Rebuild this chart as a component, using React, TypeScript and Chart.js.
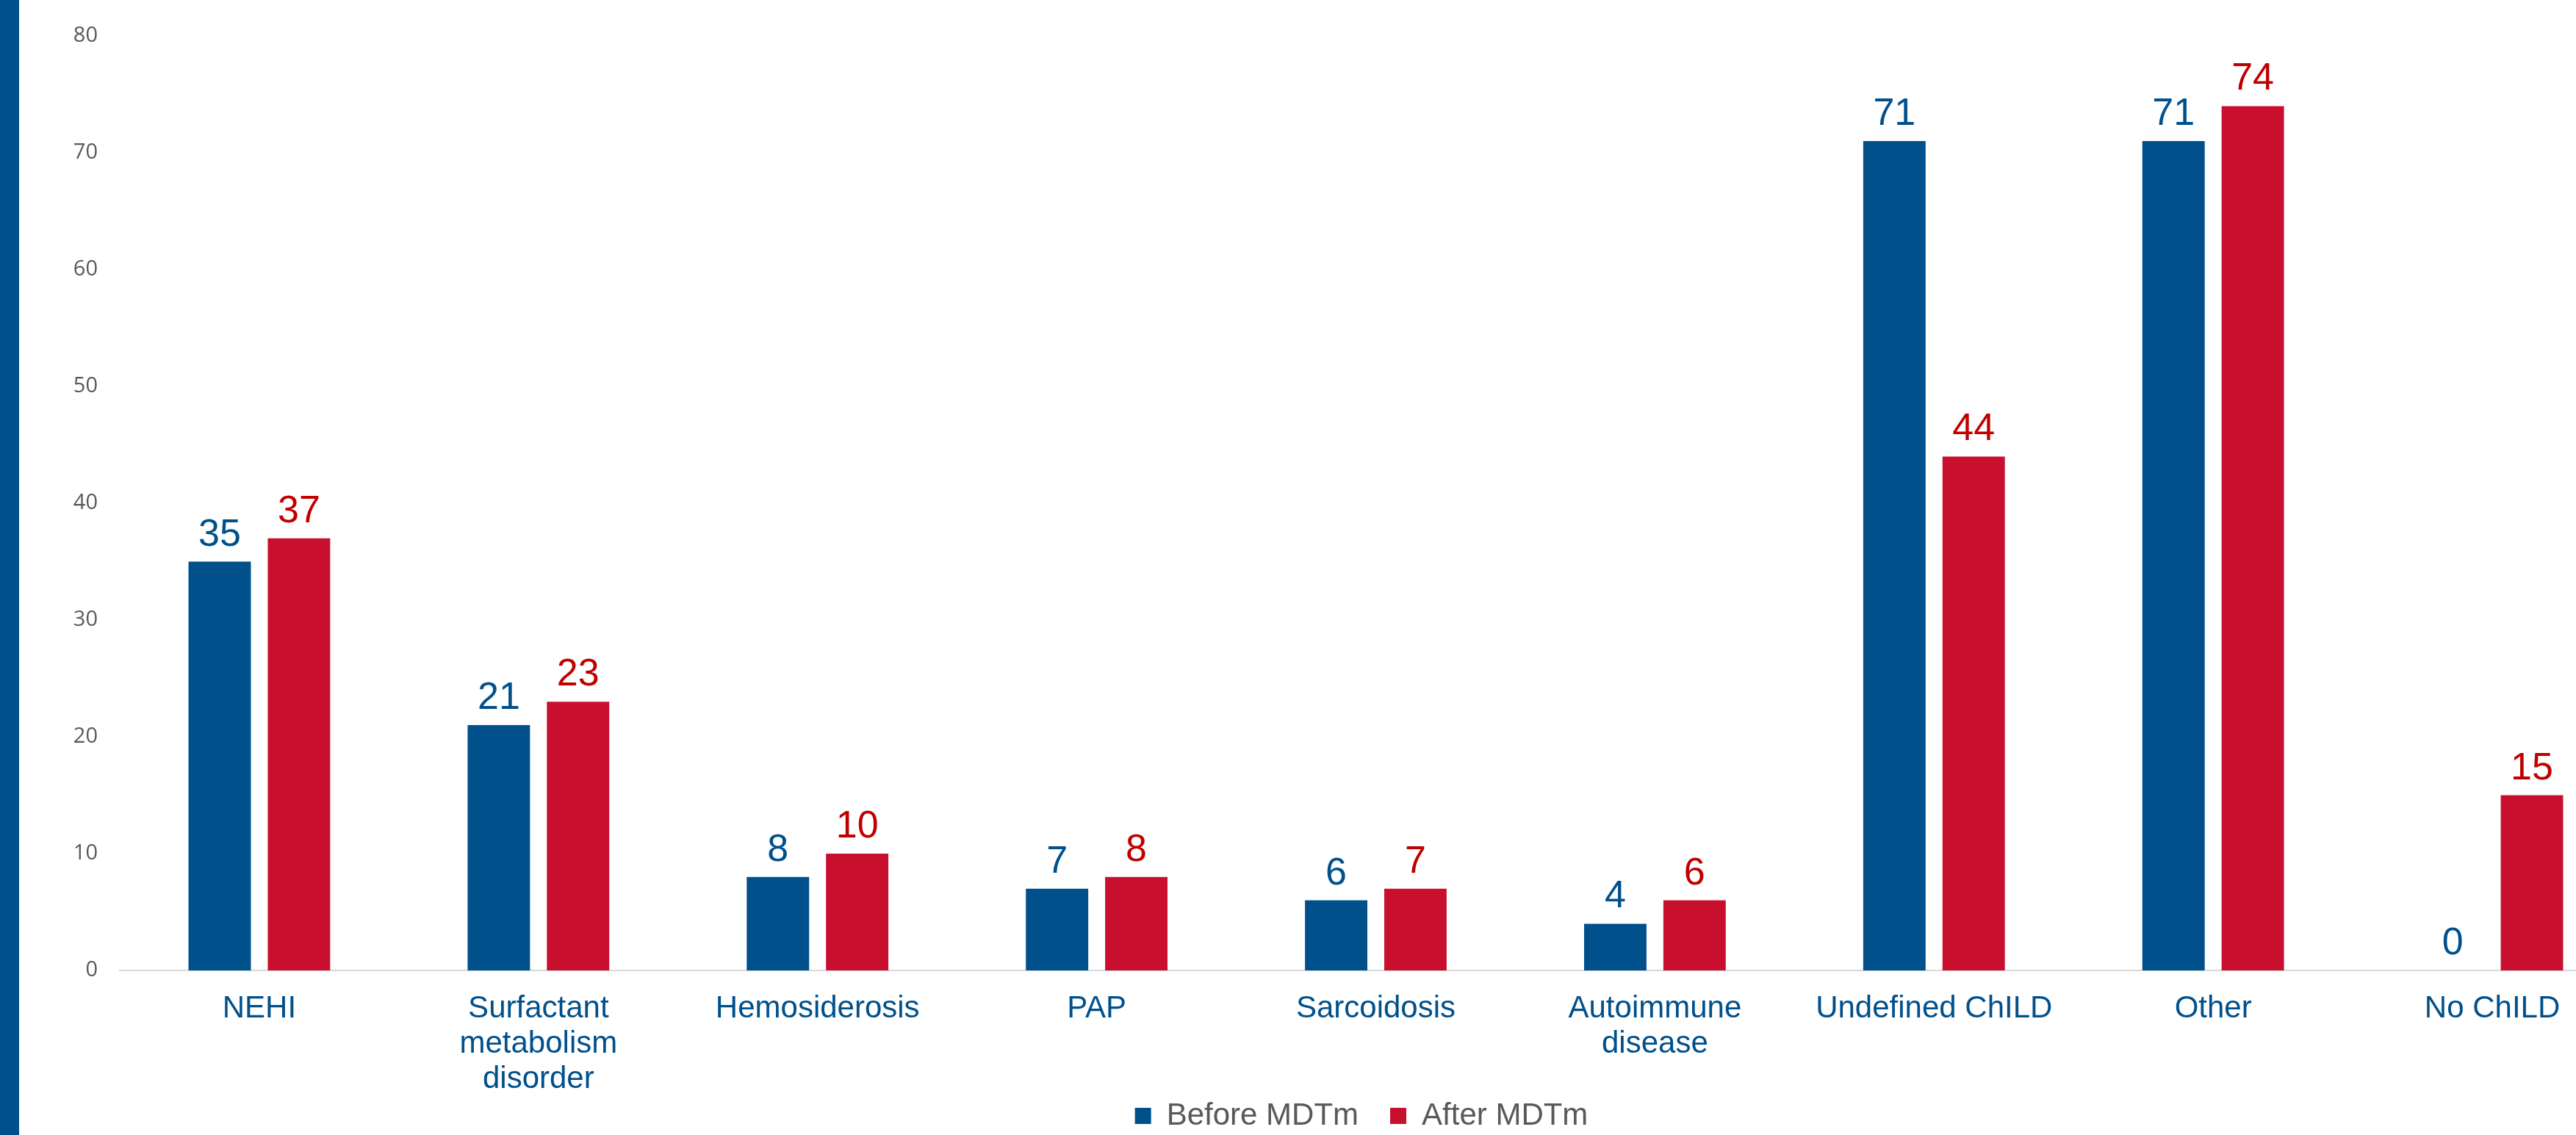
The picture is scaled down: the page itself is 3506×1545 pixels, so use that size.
import React, { useEffect, useRef } from "react";
import { Chart, registerables } from "chart.js";

Chart.register(...registerables);

const categories: (string | string[])[] = [
  "NEHI",
  ["Surfactant", "metabolism", "disorder"],
  "Hemosiderosis",
  "PAP",
  "Sarcoidosis",
  ["Autoimmune", "disease"],
  "Undefined ChILD",
  "Other",
  "No ChILD",
];
const beforeValues = [35, 21, 8, 7, 6, 4, 71, 71, 0];
const afterValues = [37, 23, 10, 8, 7, 6, 44, 74, 15];
const seriesNames = ["Before MDTm", "After MDTm"];
const yMin = 0;
const yMax = 80;
const yStep = 10;

const BLUE = "#00508C";
const RED = "#C8102E";
const RED_LABEL = "#C00000";
const GRAY = "#595959";
const AXIS_GRAY = "#D9D9D9";
const FONT = "'Liberation Sans', Arial, Helvetica, sans-serif";

const VIEW_W = 3506;
const VIEW_H = 1545;
const CANVAS_W = 3582;
const CANVAS_H = 1586;
const X_AXIS_H = 170;
const PAD_LEFT = 96;
const Y_AXIS_W = 67;
const LEGEND_SHIFT_X = 14;
const LEGEND_SHIFT_Y = -36;

const labelColors = [BLUE, RED_LABEL];

const valueLabels = {
  id: "valueLabels",
  afterDatasetsDraw(chart: any) {
    const ctx = chart.ctx;
    ctx.save();
    ctx.font = `52px ${FONT}`;
    ctx.textAlign = "center";
    ctx.textBaseline = "alphabetic";
    chart.data.datasets.forEach((ds: any, i: number) => {
      const meta = chart.getDatasetMeta(i);
      ctx.fillStyle = labelColors[i];
      meta.data.forEach((el: any, j: number) => {
        ctx.fillText(String(ds.data[j]), el.x, el.y - 22);
      });
    });
    ctx.restore();
  },
};

const legendNudge = {
  id: "legendNudge",
  afterLayout(chart: any) {
    const lg = chart.legend;
    if (!lg) return;
    lg.left += LEGEND_SHIFT_X;
    lg.right += LEGEND_SHIFT_X;
    lg.top += LEGEND_SHIFT_Y;
    lg.bottom += LEGEND_SHIFT_Y;
  },
};

export default function App() {
  const canvasRef = useRef<HTMLCanvasElement | null>(null);

  useEffect(() => {
    if (!canvasRef.current) return;
    const chart = new Chart(canvasRef.current, {
      type: "bar",
      data: {
        labels: categories as any,
        datasets: [
          {
            label: seriesNames[0],
            data: beforeValues,
            backgroundColor: BLUE,
            categoryPercentage: 0.568,
            barPercentage: 0.787,
          },
          {
            label: seriesNames[1],
            data: afterValues,
            backgroundColor: RED,
            categoryPercentage: 0.568,
            barPercentage: 0.787,
          },
        ],
      },
      options: {
        animation: false,
        responsive: false,
        devicePixelRatio: 1,
        layout: { padding: { left: PAD_LEFT, right: 0, top: 49, bottom: 0 } },
        plugins: {
          tooltip: { enabled: false },
          legend: {
            display: true,
            position: "bottom",
            labels: {
              boxWidth: 22,
              boxHeight: 22,
              padding: 43,
              color: GRAY,
              font: { family: FONT, size: 42 },
            },
          },
        },
        scales: {
          x: {
            grid: { display: false, drawTicks: false },
            border: { display: true, color: AXIS_GRAY, width: 2 },
            ticks: {
              color: BLUE,
              font: { family: FONT, size: 42, lineHeight: 1.15 },
              padding: 28,
              autoSkip: false,
              maxRotation: 0,
              minRotation: 0,
            },
            afterFit: (scale: any) => {
              scale.height = X_AXIS_H;
            },
          },
          y: {
            min: yMin,
            max: yMax,
            grid: { display: false, drawTicks: false },
            border: { display: false },
            ticks: {
              stepSize: yStep,
              color: GRAY,
              font: { family: "'Open Sans', sans-serif", size: 29 },
              padding: 30,
            },
            afterFit: (scale: any) => {
              scale.width = Y_AXIS_W;
            },
          },
        },
      },
      plugins: [valueLabels, legendNudge],
    });
    return () => chart.destroy();
  }, []);

  return (
    <div
      style={{
        position: "fixed",
        left: 0,
        top: 0,
        width: VIEW_W,
        height: VIEW_H,
        overflow: "hidden",
        background: "#ffffff",
      }}
    >
      <canvas
        ref={canvasRef}
        width={CANVAS_W}
        height={CANVAS_H}
        style={{ display: "block", width: CANVAS_W, height: CANVAS_H }}
      />
      <div
        style={{
          position: "absolute",
          left: 0,
          top: 0,
          width: 26,
          height: VIEW_H,
          background: BLUE,
        }}
      />
    </div>
  );
}
